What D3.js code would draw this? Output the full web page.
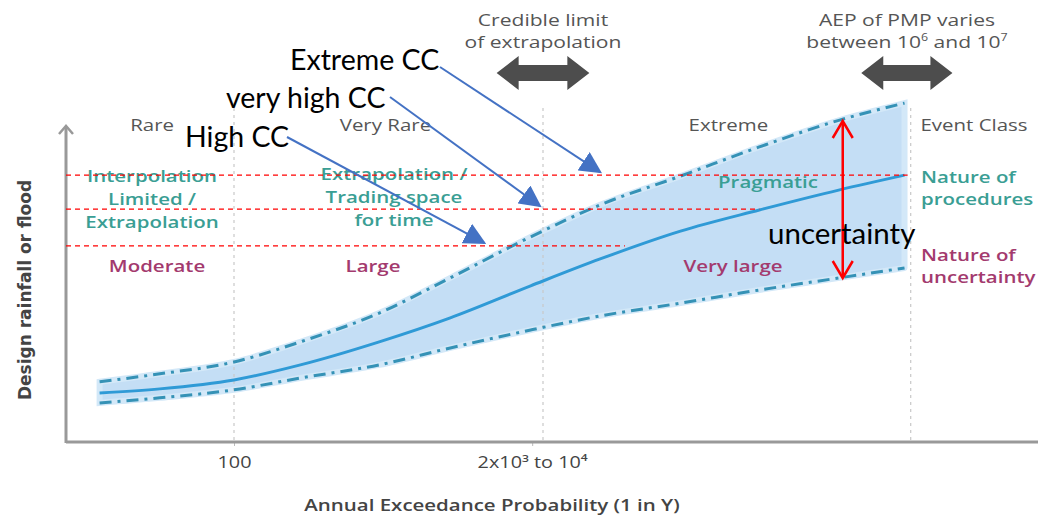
<!DOCTYPE html>
<html>
<head>
<meta charset="utf-8">
<script src="https://cdn.jsdelivr.net/npm/d3@7"></script>
<style>
  body { margin: 0; background: #fff; }
  svg { display: block; }
</style>
</head>
<body>
<script>
// x values are log10 of the return period (1 in Y)
var logY      = [1.13, 1.52, 2.0, 2.43, 2.94, 3.40, 3.92, 4.37, 4.89, 5.40, 5.92, 6.34];
var central   = [15.3, 16.6, 19.4, 24.1, 31.3, 38.8, 48.8, 57.2, 65.9, 72.5, 78.8, 83.4];
var upper     = [18.8, 21.3, 25.0, 31.3, 40.3, 51.3, 64.1, 74.1, 83.1, 92.2, 100.6, 105.9];
var lower     = [12.2, 13.8, 16.3, 20.0, 24.1, 29.4, 35.0, 39.4, 43.4, 47.5, 51.3, 54.4];

// climate change levels (red dashed) and where they stop
var ccLevels  = [83.4, 72.8, 61.3];
var ccEnds    = [6.36, 5.40, 4.53];
var ccLabels  = ["Extreme CC", "very high CC", "High CC"];
var ccTips    = [4.37, 3.98, 3.62];

var dividers  = [2, 4, 6.38];
var tickVals  = [2, 3.93];
var tickLabels = ["100", "2x10\u00b3 to 10\u2074"];

var eventClass = ["Rare", "Very Rare", "Extreme"];
var classPos   = [1.47, 2.98, 5.2];

var w = 1038, h = 520;
var svg = d3.select("body").append("svg")
            .attr("width", w)
            .attr("height", h);

var x = d3.scaleLinear().domain([2, 4]).range([234, 543]);
var y = d3.scaleLinear().domain([0, 100]).range([442, 122]);

var grey = "#555", teal = "#3a9e94", plum = "#a33a6e";
var font = "'Open Sans', sans-serif";
var sx = 1.24;   // the figure text looks stretched sideways

//band
var pts = logY.map(function (d, i) { return { x: d, c: central[i], u: upper[i], l: lower[i] }; });
var area = d3.area().curve(d3.curveMonotoneX)
             .x(function (d) { return x(d.x); })
             .y0(function (d) { return y(d.l); })
             .y1(function (d) { return y(d.u); });
svg.append("path").attr("d", area(pts))
   .attr("fill", "#c4def5").attr("stroke", "#d3e8f8").attr("stroke-width", 6);

//dividers
svg.selectAll(".div").data(dividers).enter().append("line")
   .attr("x1", function (d) { return x(d); }).attr("x2", function (d) { return x(d); })
   .attr("y1", 108).attr("y2", 442)
   .attr("stroke", "#c8c8c8").attr("stroke-width", 1.2).attr("stroke-dasharray", "3,4");

//curves
var line = function (key) {
  return d3.line().curve(d3.curveMonotoneX)
           .x(function (d) { return x(d.x); })
           .y(function (d) { return y(d[key]); });
};
svg.append("path").attr("d", line("c")(pts)).attr("fill", "none")
   .attr("stroke", "#2f9ad6").attr("stroke-width", 3);
["u", "l"].forEach(function (k) {
  svg.append("path").attr("d", line(k)(pts)).attr("fill", "none")
     .attr("stroke", "#3592b6").attr("stroke-width", 3)
     .attr("stroke-dasharray", "12,6,3,6");
});

//axes
var xAxis = d3.axisBottom(x).tickValues(tickVals).tickSize(4)
              .tickFormat(function (d, i) { return tickLabels[i]; });
var gx = svg.append("g").attr("transform", "translate(0,442)").call(xAxis);
gx.select(".domain").remove();
gx.selectAll("line").attr("stroke", "#bbb");
gx.selectAll("text").attr("font-family", font).attr("font-size", 16)
  .attr("fill", "#444").attr("dy", "1.2em").attr("transform", "scale(" + sx + ",1)");
svg.append("line").attr("x1", 66).attr("x2", 1038).attr("y1", 442).attr("y2", 442)
   .attr("stroke", "#999").attr("stroke-width", 3);
svg.append("line").attr("x1", 66).attr("x2", 66).attr("y1", 128).attr("y2", 443)
   .attr("stroke", "#999").attr("stroke-width", 3);
svg.append("path").attr("d", "M59,134 L66,126 L73,134").attr("fill", "none")
   .attr("stroke", "#999").attr("stroke-width", 2.5);

//text blocks, stretched sideways about their anchor
function block(lines, px, py, color, dy, size, anchor, weight) {
  var t = svg.append("text").attr("transform", "translate(" + px + "," + py + ") scale(" + sx + ",1)")
             .attr("font-family", font).attr("font-size", size)
             .attr("font-weight", weight || "normal")
             .attr("fill", color).attr("text-anchor", anchor || "middle");
  lines.forEach(function (s, i) {
    t.append("tspan").attr("x", 0).attr("y", i * dy).text(s);
  });
  return t;
}

block(["Annual Exceedance Probability (1 in Y)"], 492, 511, "#444", 0, 16.5, "middle", 600);
svg.append("text").attr("transform", "translate(31,290) rotate(-90)")
   .attr("text-anchor", "middle").attr("font-family", "'DejaVu Sans', sans-serif")
   .attr("font-size", 17).attr("font-weight", "bold").attr("fill", "#444")
   .text("Design rainfall or flood");

eventClass.forEach(function (d, i) {
  block([d], x(classPos[i]), 131, grey, 0, 16.5);
});
block(["Event Class"], 974, 131, grey, 0, 16.5);

block(["Interpolation", "Limited /", "Extrapolation"], 152, 182, teal, 23, 16.5, "middle", 600);
block(["Extrapolation /", "Trading space", "for time"], 394, 180, teal, 23, 16.5, "middle", 600);
block(["Pragmatic"], 768, 188, teal, 0, 16.5, "middle", 600);
block(["Nature of", "procedures"], 921, 183, teal, 22, 16.5, "start", 600);

block(["Moderate"], 157, 272, plum, 0, 16.5, "middle", 600);
block(["Large"], 373, 272, plum, 0, 16.5, "middle", 600);
block(["Very large"], 733, 272, plum, 0, 16.5, "middle", 600);
block(["Nature of", "uncertainty"], 921, 261, plum, 22, 16.5, "start", 600);

block(["Credible limit", "of extrapolation"], 543, 26, grey, 22, 17);
var pmp = block(["AEP of PMP varies"], 907, 26, grey, 0, 17);
var l2 = pmp.append("tspan").attr("x", 0).attr("y", 22);
l2.append("tspan").text("between 10");
l2.append("tspan").attr("font-size", 10).attr("dy", -7).text("6");
l2.append("tspan").attr("dy", 7).text(" and 10");
l2.append("tspan").attr("font-size", 10).attr("dy", -7).text("7");

//big grey double arrows
var bigArrows = [[3.70, 4.30], [6.06, 6.65]];
bigArrows.forEach(function (a) {
  var x0 = x(a[0]), x1 = x(a[1]), cy = 73, hl = 22;
  var p = [[x0, cy], [x0 + hl, cy - 17], [x0 + hl, cy - 8], [x1 - hl, cy - 8], [x1 - hl, cy - 17],
           [x1, cy], [x1 - hl, cy + 17], [x1 - hl, cy + 8], [x0 + hl, cy + 8], [x0 + hl, cy + 17]];
  svg.append("polygon").attr("points", p.map(function (q) { return q.join(","); }).join(" "))
     .attr("fill", "#4d4d4d");
});

//red dashed CC levels
svg.selectAll(".cc").data(ccLevels).enter().append("line")
   .attr("x1", 66).attr("x2", function (d, i) { return x(ccEnds[i]); })
   .attr("y1", function (d) { return y(d); }).attr("y2", function (d) { return y(d); })
   .attr("stroke", "#f00").attr("stroke-width", 1.3).attr("stroke-dasharray", "5,4");

//CC labels with blue pointer arrows
svg.append("defs").append("marker").attr("id", "tri").attr("viewBox", "0 0 10 10")
    .attr("refX", 9).attr("refY", 5).attr("markerWidth", 22).attr("markerHeight", 22)
    .attr("markerUnits", "userSpaceOnUse").attr("orient", "auto")
    .append("path").attr("d", "M0,0 L10,5 L0,10 Z").attr("fill", "#4472c4");

var labelX   = [290, 226, 185];
var labelY   = [70, 108, 147];
var startPt  = [[440, 67], [390, 97], [287, 137]];
svg.selectAll(".ccl").data(ccLabels).enter().append("text")
   .attr("x", function (d, i) { return labelX[i]; })
   .attr("y", function (d, i) { return labelY[i]; })
   .attr("font-family", "Lato, sans-serif").attr("font-size", 28.5)
   .attr("fill", "#000").text(function (d) { return d; });
svg.selectAll(".ptr").data(ccLevels).enter().append("line")
   .attr("x1", function (d, i) { return startPt[i][0]; })
   .attr("y1", function (d, i) { return startPt[i][1]; })
   .attr("x2", function (d, i) { return x(ccTips[i]); })
   .attr("y2", function (d) { return y(d) - 3; })
   .attr("stroke", "#4472c4").attr("stroke-width", 2).attr("marker-end", "url(#tri)");

//uncertainty arrow
var ux = x(5.94);
svg.append("line").attr("x1", ux).attr("x2", ux).attr("y1", 122).attr("y2", 277)
   .attr("stroke", "#f00").attr("stroke-width", 2.5);
svg.append("path").attr("d", "M" + (ux - 10) + ",138 L" + ux + ",121 L" + (ux + 10) + ",138")
   .attr("fill", "none").attr("stroke", "#f00").attr("stroke-width", 2.5);
svg.append("path").attr("d", "M" + (ux - 10) + ",261 L" + ux + ",278 L" + (ux + 10) + ",261")
   .attr("fill", "none").attr("stroke", "#f00").attr("stroke-width", 2.5);
svg.append("text").attr("x", 768).attr("y", 244).attr("font-family", "Lato, sans-serif")
   .attr("font-size", 29.5).attr("fill", "#000").text("uncertainty");
</script>
</body>
</html>
